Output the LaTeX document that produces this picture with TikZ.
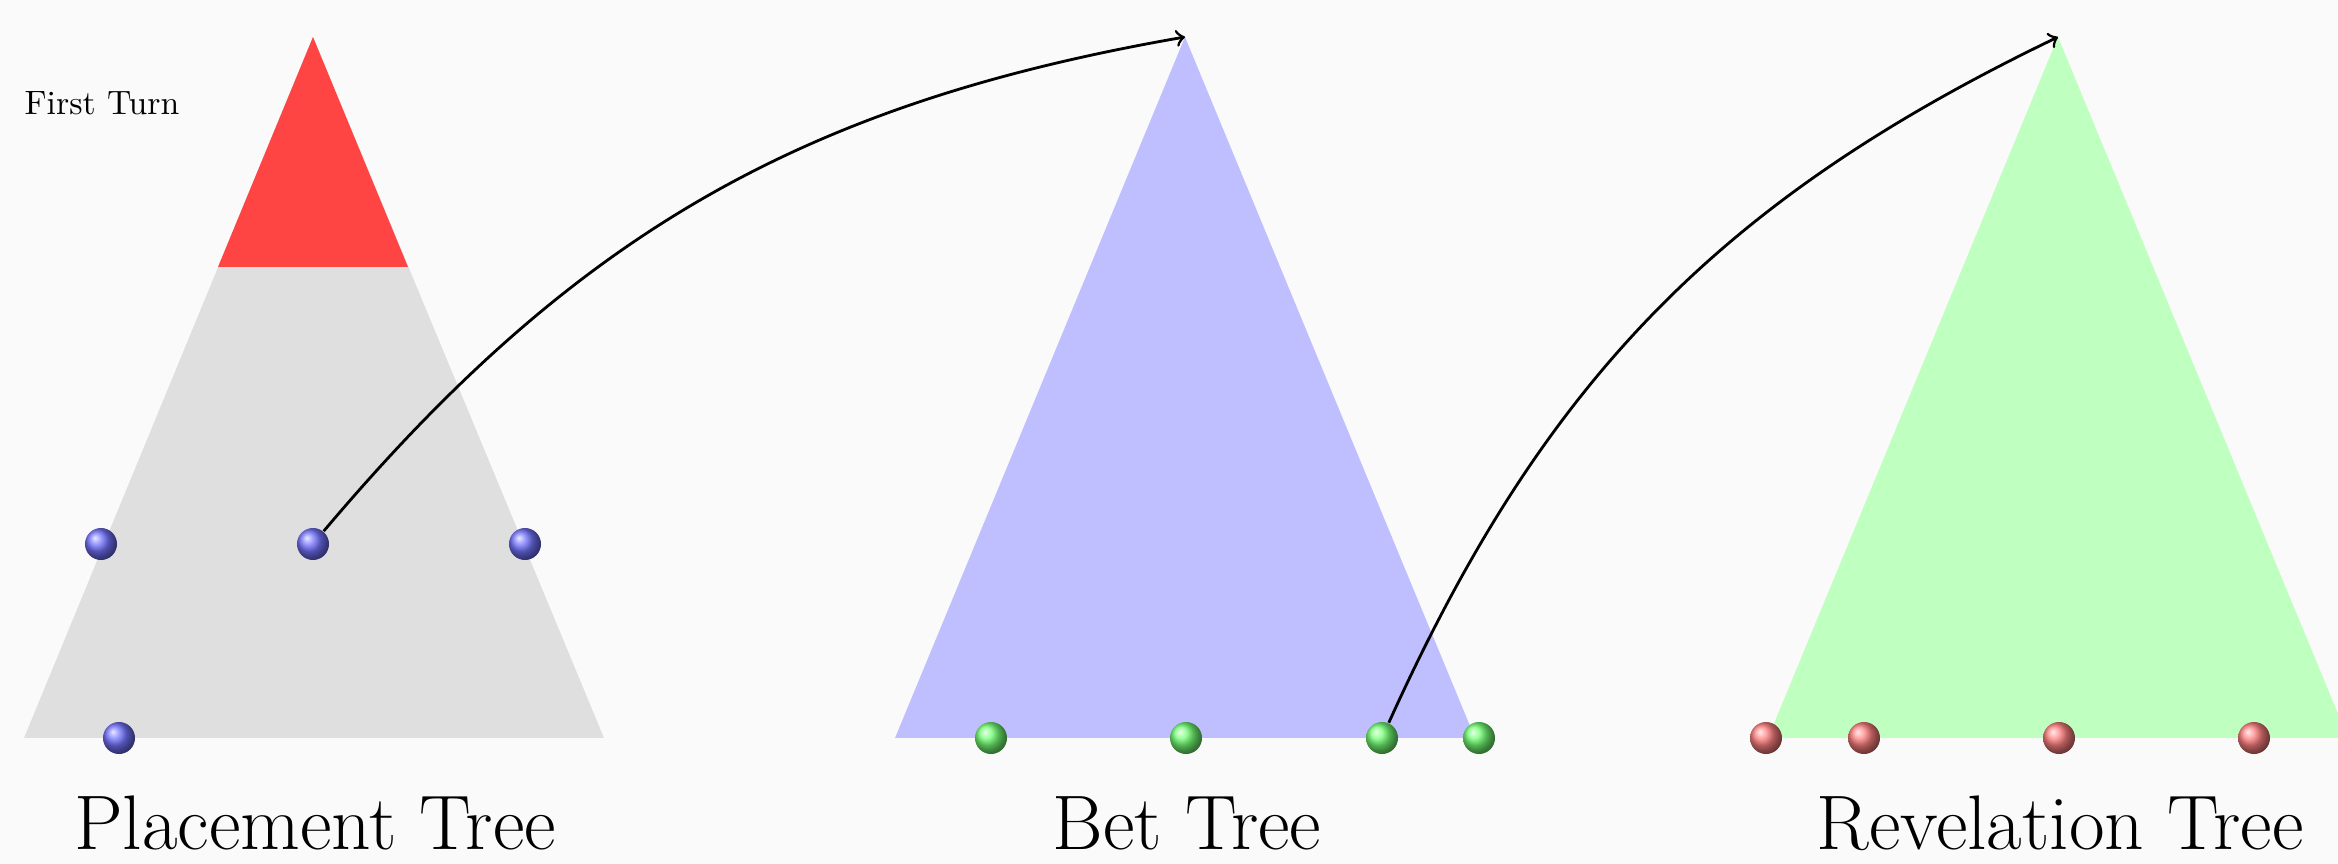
\documentclass[tikz,border=0pt]{standalone}
\usetikzlibrary{shadings}
\definecolor{bgc}{HTML}{FAFAFA}
\definecolor{topred}{HTML}{FF4444}
\definecolor{placegray}{HTML}{DFDFDF}
\definecolor{betblue}{HTML}{BFBFFF}
\definecolor{revgreen}{HTML}{BFFFBF}
\colorlet{ballblue}{blue!55}
\colorlet{ballgreen}{green!55}
\colorlet{ballred}{red!50}
\begin{document}
\begin{tikzpicture}[x=0.01cm,y=0.01cm,
  ballnode/.style={circle,inner sep=0pt,minimum size=0.32cm,shading=ball},
  treelabel/.style={anchor=base,font=\fontsize{22}{26}\selectfont,inner sep=0pt},
  linker/.style={->,thick,black}]
\useasboundingbox (0,0) rectangle (2338,-864);
\fill[bgc] (0,0) rectangle (2338,-864);
% placement tree
\fill[placegray] (24,-738) -- (313,-37) -- (604,-738) -- cycle;
\fill[topred] (218,-267) -- (313,-37) -- (408,-267) -- cycle;
% bet tree
\fill[betblue] (895,-738) -- (1185,-37) -- (1475,-738) -- cycle;
% revelation tree
\fill[revgreen] (1768,-738) -- (2058,-37) -- (2348,-738) -- cycle;
\coordinate (betapex) at (1185,-37);
\coordinate (revapex) at (2058,-37);
\node[anchor=base west,inner sep=0pt,font=\fontsize{9.6}{12}\selectfont] (ft) at (24,-115) {First Turn};
% balls
\node[ballnode,ball color=ballblue] (p1) at (101,-544) {};
\node[ballnode,ball color=ballblue] (p2) at (313,-544) {};
\node[ballnode,ball color=ballblue] (p3) at (525,-544) {};
\node[ballnode,ball color=ballblue] (p4) at (119,-738) {};
\node[ballnode,ball color=ballgreen] (g1) at (991,-738) {};
\node[ballnode,ball color=ballgreen] (g2) at (1186,-738) {};
\node[ballnode,ball color=ballgreen] (g3) at (1382,-738) {};
\node[ballnode,ball color=ballgreen] (g4) at (1479,-738) {};
\node[ballnode,ball color=ballred] (r1) at (1766,-738) {};
\node[ballnode,ball color=ballred] (r2) at (1864,-738) {};
\node[ballnode,ball color=ballred] (r3) at (2059,-738) {};
\node[ballnode,ball color=ballred] (r4) at (2254,-738) {};
% labels
\node[treelabel] (l1) at (315,-850) {Placement Tree};
\node[treelabel] (l2) at (1187,-850) {Bet Tree};
\node[treelabel] (l3) at (2060,-850) {Revelation Tree};
% arrows
\draw[linker] (p2) to[bend left=20] (betapex);
\draw[linker] (g3) to[bend left=20] (revapex);
\end{tikzpicture}
\end{document}
